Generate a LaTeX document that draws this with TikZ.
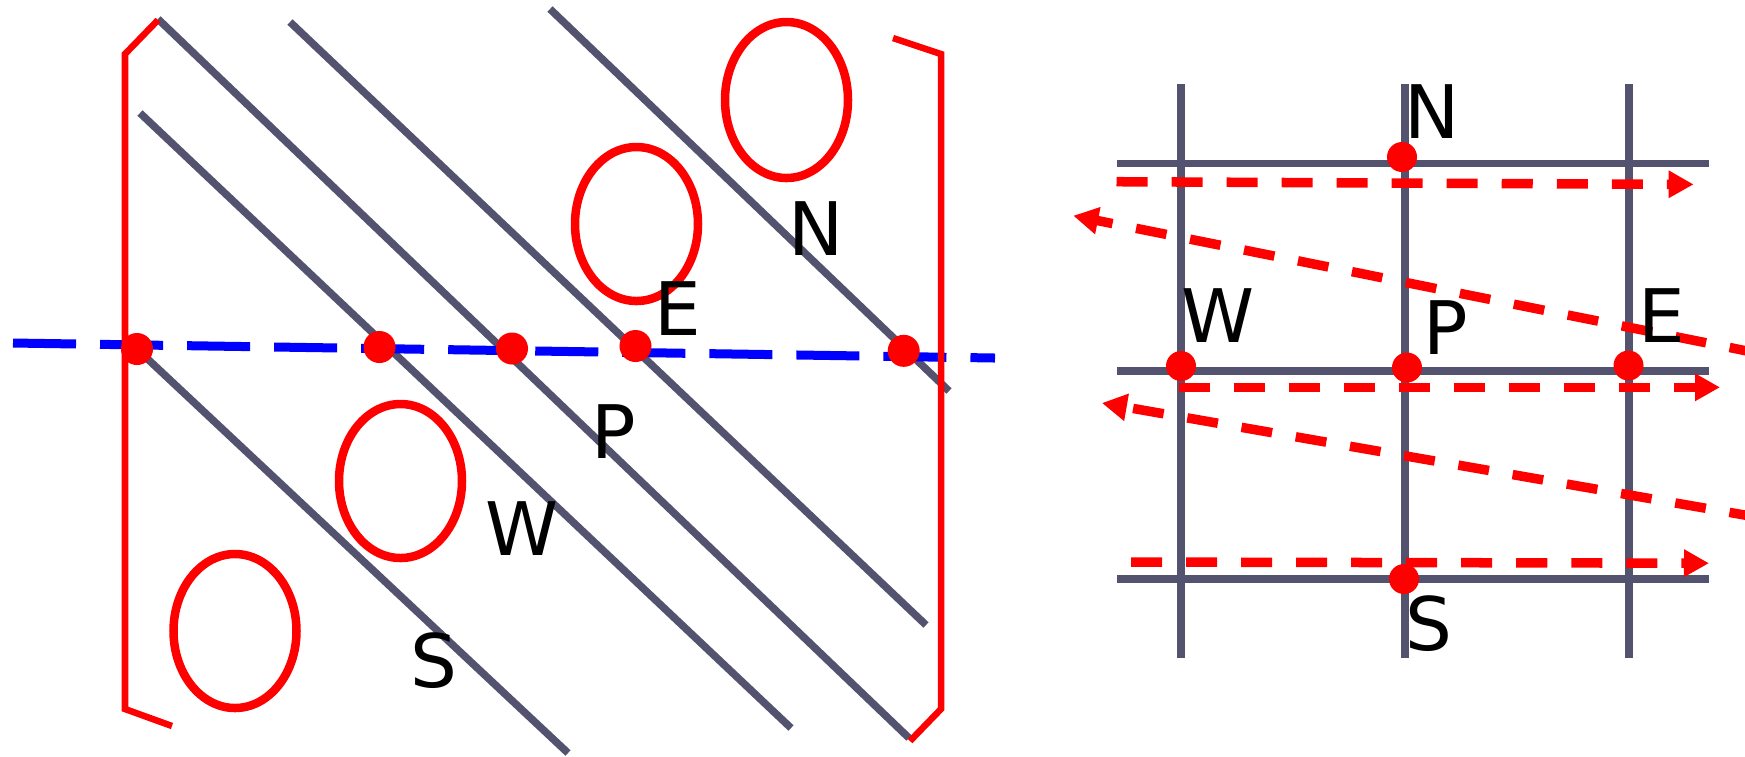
\documentclass[tikz,border=0pt]{standalone}
\usepackage{fontspec}
\setmainfont{DejaVu Sans}
\usepackage{tikz}
\usetikzlibrary{arrows.meta}
\usepackage{xcolor}
\definecolor{mygray}{RGB}{83, 83, 112}
\definecolor{myred}{RGB}{255, 0, 0}
\definecolor{myblue}{RGB}{0, 0, 255}

\begin{document}
\begin{tikzpicture}[x=0.01cm, y=-0.01cm,
    gridline/.style={draw=mygray, line width=0.075cm},
    cv/.style={draw=myred, line width=0.085cm},
    bracket/.style={draw=myred, line width=0.065cm},
    dot/.style={circle, fill=myred, inner sep=0pt, minimum size=#1},
    dot/.default=0.32cm,
    lbl/.style={inner sep=0pt, font=\fontsize{21pt}{25pt}\selectfont},
    sweep/.style={draw=myred, line width=0.095cm, dash pattern=on 0.31cm off 0.24cm,
        -{Triangle[length=0.25cm, width=0.26cm]}}]
                \useasboundingbox (0,0) rectangle (1745,756);

                % --- Skewed grid lines ---
                \draw[gridline] (137,349) -- (568,753);
                \draw[gridline] (140,113) -- (791,728);
                \draw[gridline] (158,19) -- (909,738);
                \draw[gridline] (290,22) -- (926,625);
                \draw[gridline] (550,9) -- (949,391);

                % --- Blue cut line ---
                \draw[myblue, line width=0.09cm, dash pattern=on 0.63cm off 0.24cm] (13,343) -- (995,358);

                % --- Brackets ---
                \draw[bracket] (158,20) -- (125,54) -- (125,709) -- (172,726);
                \draw[bracket] (893,38) -- (941,54) -- (941,709) -- (910,741);

                % --- Control volumes ---
                \draw[cv] (786.5,100) ellipse [x radius=61.5, y radius=78];
                \draw[cv] (636.5,224) ellipse [x radius=61.5, y radius=77];
                \draw[cv] (400.5,481) ellipse [x radius=61.5, y radius=77];
                \draw[cv] (235,631) ellipse [x radius=61.5, y radius=77];

                % --- Intersection points ---
                \node[dot] (a1) at (137,349) {};
                \node[dot] (a2) at (379.5,347) {};
                \node[dot] (a3) at (512,348.5) {};
                \node[dot] (a4) at (635.5,346) {};
                \node[dot] (a5) at (903.7,350.8) {};

                \node[lbl] (ln) at (816,228.5) {N};
                \node[lbl] (le) at (678,308.6) {E};
                \node[lbl] (lp) at (614,432) {P};
                \node[lbl] (lw) at (522.5,528.4) {W};
                \node[lbl] (ls) at (434,661) {S};

                % --- Cartesian grid ---
                \foreach \x in {1181,1405,1629}
                    \draw[gridline] (\x,83.5) -- (\x,658);
                \foreach \y in {163.5,371,579}
                    \draw[gridline] (1117,\y) -- (1709,\y);

                % --- Sweep directions ---
                \coordinate (s1a) at (1116.5,181.7);
                \coordinate (s1b) at (1693.6,184.4);
                \coordinate (s2a) at (1760,353.6);
                \coordinate (s2b) at (1073.3,215.7);
                \coordinate (s3a) at (1178.5,387.3);
                \coordinate (s3b) at (1720,387.3);
                \coordinate (s4a) at (1760,517.7);
                \coordinate (s4b) at (1101.9,403);
                \coordinate (s5a) at (1131,562);
                \coordinate (s5b) at (1709,563.2);
                \draw[sweep] (s1a) -- (s1b);
                \draw[sweep] (s2a) -- (s2b);
                \draw[sweep] (s3a) -- (s3b);
                \draw[sweep] (s4a) -- (s4b);
                \draw[sweep] (s5a) -- (s5b);

                % --- Nodes of the stencil ---
                \node[dot=0.3cm] (n) at (1402,157) {};
                \node[dot=0.3cm] (w) at (1181,366) {};
                \node[dot=0.3cm] (p) at (1407,367.5) {};
                \node[dot=0.3cm] (e) at (1628.5,365.5) {};
                \node[dot=0.3cm] (s) at (1404,579) {};

                \node[lbl] (rn) at (1432,111.3) {N};
                \node[lbl] (rw) at (1217.6,316) {W};
                \node[lbl] (rp) at (1445.4,327.8) {P};
                \node[lbl] (re) at (1662,316) {E};
                \node[lbl] (rs) at (1429,623.4) {S};

            \end{tikzpicture}
\end{document}
